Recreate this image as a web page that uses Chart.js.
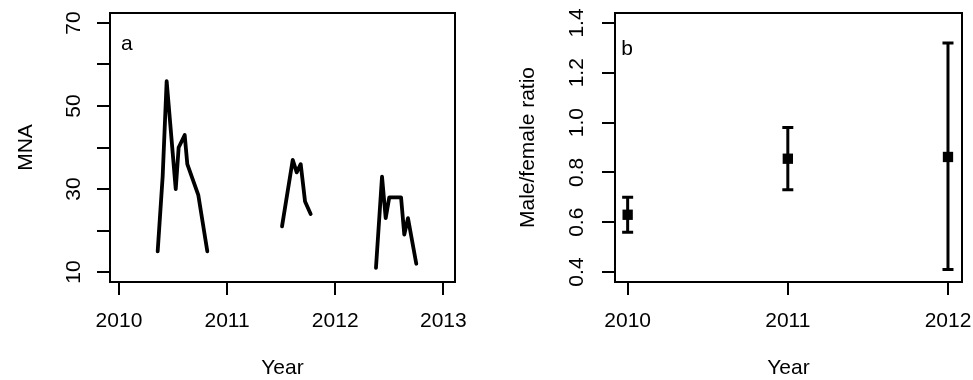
<!DOCTYPE html>
<html>
<head>
<meta charset="utf-8">
<script src="https://cdn.jsdelivr.net/npm/chart.js@4.4.1/dist/chart.umd.min.js"></script>
<style>
  html, body { margin: 0; padding: 0; background: #fff; }
  #wrap { position: relative; width: 973px; height: 380px; }
  canvas { position: absolute; top: 0; }
  #mnaChart { left: 0; }
  #ratioChart { left: 490px; }
</style>
</head>
<body>
<div id="wrap">
  <canvas id="mnaChart" width="490" height="380"></canvas>
  <canvas id="ratioChart" width="483" height="380"></canvas>
</div>
<script>
// panel a - MNA per trapping session, one line per season
const dates2010 = [2010.358, 2010.404, 2010.441, 2010.525, 2010.552, 2010.608, 2010.632, 2010.734, 2010.817];
const mna2010 = [15, 33, 56, 30, 40, 43, 36, 28.5, 15];
const dates2011 = [2011.508, 2011.607, 2011.644, 2011.681, 2011.721, 2011.773];
const mna2011 = [21, 37, 34, 36, 27, 24];
const dates2012 = [2012.377, 2012.433, 2012.467, 2012.500, 2012.609, 2012.639, 2012.673, 2012.750];
const mna2012 = [11, 33, 23, 28, 28, 19, 23, 12];

const mnaXTicks = [2010, 2011, 2012, 2013];
const mnaYTicks = [10, 20, 30, 40, 50, 60, 70];
const mnaYLabels = ['10', '', '30', '', '50', '', '70'];

// panel b - male/female ratio with error bars
const ratioYears = [2010, 2011, 2012];
const ratioMean = [0.63, 0.855, 0.862];
const ratioLower = [0.56, 0.73, 0.41];
const ratioUpper = [0.70, 0.98, 1.32];

const ratioXTicks = [2010, 2011, 2012];
const ratioYTicks = [0.4, 0.6, 0.8, 1.0, 1.2, 1.4];
const ratioYLabels = ['0.4', '0.6', '0.8', '1.0', '1.2', '1.4'];

const FONT = 'Liberation Sans, Arial, Helvetica, sans-serif';
const FS = 21;

Chart.defaults.font.family = FONT;
Chart.defaults.color = '#000';

const pts = (xs, ys) => xs.map((x, i) => ({ x: x, y: ys[i] }));

// R-like frame: box, rotated y tick labels, panel letter
function rFrame(yLabels, labelGap, letter, letterDx, letterDy) {
  return {
    id: 'rFrame',
    afterDraw(chart) {
      const { ctx, chartArea: a, scales } = chart;
      ctx.save();
      ctx.strokeStyle = '#000';
      ctx.lineWidth = 2;
      ctx.strokeRect(a.left, a.top, a.right - a.left, a.bottom - a.top);

      ctx.fillStyle = '#000';
      ctx.font = FS + 'px ' + FONT;
      ctx.textAlign = 'center';
      ctx.textBaseline = 'middle';
      scales.y.ticks.forEach((t, i) => {
        const txt = yLabels[i];
        if (!txt) return;
        ctx.save();
        ctx.translate(a.left - labelGap, scales.y.getPixelForValue(t.value));
        ctx.rotate(-Math.PI / 2);
        ctx.fillText(txt, 0, 0);
        ctx.restore();
      });

      ctx.textAlign = 'left';
      ctx.textBaseline = 'alphabetic';
      ctx.fillText(letter, a.left + letterDx, a.top + letterDy);
      ctx.restore();
    }
  };
}

const errorBars = {
  id: 'errorBars',
  beforeDatasetsDraw(chart) {
    const { ctx, scales: { x, y } } = chart;
    ctx.save();
    ctx.strokeStyle = '#000';
    ctx.lineWidth = 3;
    ratioYears.forEach((yr, i) => {
      const px = x.getPixelForValue(yr);
      const lo = y.getPixelForValue(ratioLower[i]);
      const hi = y.getPixelForValue(ratioUpper[i]);
      ctx.beginPath();
      ctx.moveTo(px, lo); ctx.lineTo(px, hi);
      ctx.moveTo(px - 5.5, lo); ctx.lineTo(px + 5.5, lo);
      ctx.moveTo(px - 5.5, hi); ctx.lineTo(px + 5.5, hi);
      ctx.stroke();
    });
    ctx.restore();
  }
};

function xAxis(min, max, ticks) {
  return {
    type: 'linear', min: min, max: max,
    afterBuildTicks: s => { s.ticks = ticks.map(v => ({ value: v })); },
    afterFit: s => { s.height = 98; s.paddingLeft = 0; s.paddingRight = 0; },
    grid: { drawOnChartArea: false, drawTicks: true, tickLength: 13, color: '#000', lineWidth: 2 },
    border: { display: false },
    ticks: { font: { size: FS }, padding: 14, maxRotation: 0, callback: v => String(v) },
    title: { display: true, text: 'Year', font: { size: FS }, padding: { top: 0, bottom: -1 } }
  };
}

function yAxis(min, max, ticks, width, title, titlePad) {
  return {
    type: 'linear', min: min, max: max,
    afterBuildTicks: s => { s.ticks = ticks.map(v => ({ value: v })); },
    afterFit: s => { s.width = width; s.paddingTop = 0; s.paddingBottom = 0; },
    grid: { drawOnChartArea: false, drawTicks: true, tickLength: 13, color: '#000', lineWidth: 2 },
    border: { display: false },
    ticks: { display: false },
    title: { display: true, text: title, font: { size: FS }, padding: { top: titlePad, bottom: 0 } }
  };
}

const lineStyle = {
  borderColor: '#000', borderWidth: 3.8, pointRadius: 0,
  borderJoinStyle: 'round', borderCapStyle: 'round', tension: 0, fill: false
};

new Chart(document.getElementById('mnaChart'), {
  type: 'line',
  data: {
    datasets: [
      Object.assign({ data: pts(dates2010, mna2010) }, lineStyle),
      Object.assign({ data: pts(dates2011, mna2011) }, lineStyle),
      Object.assign({ data: pts(dates2012, mna2012) }, lineStyle)
    ]
  },
  options: {
    responsive: false, animation: false, devicePixelRatio: 1,
    layout: { padding: { left: 0, top: 13, right: 35, bottom: 0 } },
    plugins: { legend: { display: false }, tooltip: { enabled: false } },
    scales: {
      x: xAxis(2009.917, 2013.108, mnaXTicks),
      y: yAxis(7.6, 72.4, mnaYTicks, 110, 'MNA', 13.9)
    }
  },
  plugins: [rFrame(mnaYLabels, 35.7, 'a', 11, 37)]
});

new Chart(document.getElementById('ratioChart'), {
  type: 'scatter',
  data: {
    datasets: [{
      data: pts(ratioYears, ratioMean),
      pointStyle: 'rect', pointRadius: 7.3, pointBorderWidth: 0,
      backgroundColor: '#000', borderColor: '#000'
    }]
  },
  options: {
    responsive: false, animation: false, devicePixelRatio: 1,
    layout: { padding: { left: 0, top: 13, right: 11, bottom: 0 } },
    plugins: { legend: { display: false }, tooltip: { enabled: false } },
    scales: {
      x: xAxis(2009.921, 2012.0875, ratioXTicks),
      y: yAxis(0.36, 1.44, ratioYTicks, 125, 'Male/female ratio', 25.4)
    }
  },
  plugins: [errorBars, rFrame(ratioYLabels, 38.2, 'b', 6.3, 42)]
});
</script>
</body>
</html>
